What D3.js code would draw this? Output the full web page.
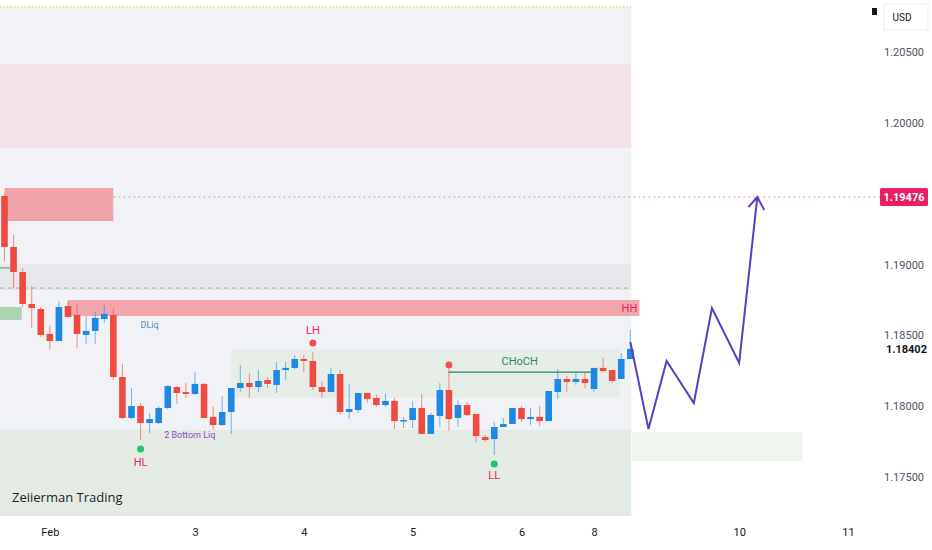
<!DOCTYPE html>
<html>
<head>
<meta charset="utf-8">
<script src="https://cdn.jsdelivr.net/npm/d3@7"></script>
<style>
  body { margin: 0; background: #fff; }
  svg { display: block; font-family: Roboto, "Noto Sans", sans-serif; }
</style>
</head>
<body>
<div id="chart"></div>
<script>
const width = 932, height = 550;

// 2h candles
const open = [1.19484,1.19124,1.18947,1.18721,1.18686,1.18510,1.18460,1.18707,1.18644,1.18503,
  1.18531,1.18615,1.18644,1.18206,1.17917,1.18001,1.17881,1.17881,1.17987,1.18135,
  1.18100,1.18086,1.18157,1.17924,1.17867,1.17959,1.18128,1.18164,1.18135,1.18185,
  1.18150,1.18255,1.18270,1.18333,1.18319,1.18135,1.18100,1.18227,1.17959,1.17973,
  1.18093,1.18058,1.18008,1.18037,1.17895,1.17902,1.17987,1.17804,1.17931,1.18114,
  1.17917,1.18008,1.17945,1.17782,1.17768,1.17853,1.17874,1.17987,1.17909,1.17924,
  1.17895,1.18100,1.18192,1.18171,1.18192,1.18121,1.18270,1.18255,1.18192,1.18333];
const high = [1.19498,1.19209,1.18976,1.18848,1.18700,1.18566,1.18743,1.18743,1.18721,1.18637,
  1.18665,1.18714,1.18693,1.18298,1.18128,1.18022,1.17952,1.18001,1.18150,1.18142,
  1.18164,1.18241,1.18164,1.17994,1.18072,1.18128,1.18291,1.18234,1.18255,1.18206,
  1.18312,1.18312,1.18361,1.18361,1.18382,1.18171,1.18270,1.18255,1.18157,1.18093,
  1.18093,1.18079,1.18086,1.18058,1.17924,1.18037,1.18086,1.17952,1.18164,1.18262,
  1.18044,1.18030,1.17945,1.17796,1.17888,1.17917,1.17987,1.18001,1.17987,1.18001,
  1.18107,1.18262,1.18213,1.18234,1.18234,1.18270,1.18340,1.18255,1.18375,1.18538];
const low = [1.19018,1.18834,1.18700,1.18552,1.18488,1.18404,1.18460,1.18623,1.18411,1.18439,
  1.18439,1.18587,1.18185,1.17909,1.17909,1.17761,1.17811,1.17874,1.17980,1.18015,
  1.18058,1.18079,1.17917,1.17832,1.17860,1.17804,1.18100,1.18058,1.18100,1.18128,
  1.18093,1.18185,1.18262,1.18241,1.18114,1.18058,1.18100,1.17938,1.17909,1.17952,
  1.18022,1.17994,1.17994,1.17839,1.17846,1.17846,1.17804,1.17804,1.17853,1.17825,
  1.17853,1.17931,1.17747,1.17747,1.17655,1.17853,1.17874,1.17888,1.17867,1.17860,
  1.17895,1.18051,1.18100,1.18150,1.18128,1.18100,1.18241,1.18164,1.18192,1.18333];
const close = [1.19124,1.18947,1.18721,1.18693,1.18503,1.18460,1.18700,1.18630,1.18510,1.18531,
  1.18623,1.18651,1.18206,1.17917,1.18001,1.17881,1.17909,1.17987,1.18142,1.18093,
  1.18086,1.18157,1.17917,1.17867,1.17959,1.18128,1.18164,1.18135,1.18178,1.18157,
  1.18255,1.18270,1.18333,1.18319,1.18135,1.18100,1.18227,1.17959,1.17980,1.18093,
  1.18051,1.18008,1.18037,1.17895,1.17902,1.17987,1.17804,1.17938,1.18114,1.17909,
  1.18008,1.17938,1.17789,1.17761,1.17853,1.17874,1.17987,1.17909,1.17924,1.17895,
  1.18107,1.18192,1.18171,1.18192,1.18164,1.18270,1.18248,1.18178,1.18333,1.18404];

const priceTicks = [1.175, 1.18, 1.185, 1.19, 1.2, 1.205];
const dayTickIndex = [5, 21, 33, 45, 57, 65, 81, 93];
const dayTickLabels = ["Feb", "3", "4", "5", "6", "8", "10", "11"];

// projected path (bar index, price)
const pathIndex = [69, 71, 73, 76, 78, 81, 83];
const pathPrice = [1.18453, 1.17839, 1.18319, 1.18022, 1.18693, 1.18305, 1.19476];

const targetPrice = 1.19476;
const lastPrice = 1.18402;

const x = d3.scaleLinear().domain([0, 100]).range([4.5, 4.5 + 100 * 9.07]);
const y = d3.scaleLinear().domain([1.175, 1.205]).range([477, 52]);

const svg = d3.select("#chart").append("svg")
  .attr("width", width).attr("height", height);

// zones: [fromIndex, toIndex, priceTop, priceBottom, fill]
const zones = [
  [-0.6, 69.1, 1.20818, 1.17225, "#f0f2f5"],
  [-0.6, 69.1, 1.20416, 1.19823, "#f3e2e5"],
  [-0.6, 69.1, 1.19004, 1.18820, "#e5e7ea"],
  [-0.6, 69.1, 1.17832, 1.17225, "#e3ebe4"],
  [25, 67.9, 1.18397, 1.18058, "#e6ede7"],
  [69.2, 88, 1.17818, 1.17613, "#eef5ef"],
  [-0.6, 1.9, 1.18700, 1.18609, "#a9d4ad"],
  [0, 12, 1.19540, 1.19307, "#f2a3a9"],
  [7, 70, 1.18749, 1.18637, "#f0a6ac"]
];
svg.append("g").selectAll("rect").data(zones).join("rect")
  .attr("x", d => Math.max(0, x(d[0])))
  .attr("width", d => x(d[1]) - Math.max(0, x(d[0])))
  .attr("y", d => y(d[2]))
  .attr("height", d => y(d[3]) - y(d[2]))
  .attr("fill", d => d[4]);

// top dotted line
svg.append("line")
  .attr("x1", 0).attr("x2", x(69.1))
  .attr("y1", y(1.20818)).attr("y2", y(1.20818))
  .attr("stroke", "#e3d63a").attr("stroke-width", 1.2).attr("stroke-dasharray", "1.5,2");

// grey dashed level
svg.append("line")
  .attr("x1", 0).attr("x2", x(69.1))
  .attr("y1", y(1.18834)).attr("y2", y(1.18834))
  .attr("stroke", "#a8abb3").attr("stroke-dasharray", "4,4");

// target level
svg.append("line")
  .attr("x1", x(12)).attr("x2", 880)
  .attr("y1", y(targetPrice)).attr("y2", y(targetPrice))
  .attr("stroke", "#f48fb1").attr("stroke-dasharray", "2,3");

// small green line at left
svg.append("line")
  .attr("x1", 0).attr("x2", x(0.6))
  .attr("y1", y(1.18976)).attr("y2", y(1.18976))
  .attr("stroke", "#3f9f6f");

// candles
const candles = open.map((o, i) => ({ i, o, h: high[i], l: low[i], c: close[i] }));
const up = "#1e88e5", down = "#ef4a40";
const cg = svg.append("g");
cg.selectAll("line").data(candles).join("line")
  .attr("x1", d => x(d.i)).attr("x2", d => x(d.i))
  .attr("y1", d => y(d.h)).attr("y2", d => y(d.l))
  .attr("stroke", d => d.c >= d.o ? up : down)
  .attr("stroke-opacity", 0.6);
cg.selectAll("rect").data(candles).join("rect")
  .attr("x", d => x(d.i) - 3.3)
  .attr("width", 6.6)
  .attr("y", d => y(Math.max(d.o, d.c)))
  .attr("height", d => Math.max(1.5, Math.abs(y(d.o) - y(d.c))))
  .attr("fill", d => d.c >= d.o ? up : down);

// CHoCH line
svg.append("path")
  .attr("d", `M${x(49)},${y(1.18312) + 10}V${y(1.18241)}H${x(65)}`)
  .attr("fill", "none").attr("stroke", "#1f8a6a").attr("stroke-width", 1.2);

// structure markers: [index, dot price, dot colour, label, label offset]
const markers = [
  [34, 1.18446, "#ef5350", "LH", -9],
  [15, 1.17698, "#22c470", "HL", 17],
  [54, 1.17592, "#22c470", "LL", 15],
  [49, 1.18291, "#ef5350", "", 0]
];
const mg = svg.append("g");
mg.selectAll("circle").data(markers).join("circle")
  .attr("cx", d => x(d[0])).attr("cy", d => y(d[1]))
  .attr("r", 3.5).attr("fill", d => d[2]);
mg.selectAll("text").data(markers.filter(d => d[3])).join("text")
  .attr("x", d => x(d[0])).attr("y", d => y(d[1]) + d[4])
  .attr("text-anchor", "middle").attr("font-size", 11)
  .attr("fill", "#e91e63").text(d => d[3]);

// text labels
const texts = [
  [16, 1.18554, "DLiq", "#4f8cbf", 9, "middle"],
  [17.6, 1.17775, "2 Bottom Liq", "#8a4fcf", 9, "start"],
  [56.8, 1.18290, "CHoCH", "#1f8a6a", 11, "middle"],
  [68.9, 1.18665, "HH", "#e91e63", 11, "middle"]
];
svg.append("g").selectAll("text").data(texts).join("text")
  .attr("x", d => x(d[0])).attr("y", d => y(d[1]))
  .attr("text-anchor", d => d[5])
  .attr("font-size", d => d[4])
  .attr("fill", d => d[3])
  .text(d => d[2]);

// projection zigzag
const proj = pathIndex.map((v, k) => [x(v), y(pathPrice[k])]);
svg.append("path")
  .attr("d", d3.line()(proj))
  .attr("fill", "none").attr("stroke", "#5a3dc2").attr("stroke-width", 2)
  .attr("stroke-linejoin", "miter");
const tip = proj[proj.length - 1];
svg.append("path")
  .attr("d", `M${tip[0] - 9},${tip[1] + 10}L${tip[0]},${tip[1]}L${tip[0] + 7},${tip[1] + 13}`)
  .attr("fill", "none").attr("stroke", "#5a3dc2").attr("stroke-width", 2);

// watermark
svg.append("text").attr("x", 12).attr("y", 502)
  .attr("font-family", "'Open Sans', sans-serif")
  .attr("font-size", 13).attr("fill", "#1c1f26")
  .text("Zeiierman Trading");

// price axis
const yAxis = svg.append("g")
  .attr("transform", "translate(927,0)")
  .call(d3.axisLeft(y).tickValues(priceTicks).tickFormat(d3.format(".5f")).tickSize(0));
yAxis.select(".domain").remove();
yAxis.selectAll("text").attr("font-size", 11).attr("fill", "#50535e")
  .attr("font-family", "Roboto, sans-serif").attr("dx", 0);

// time axis
const xAxis = svg.append("g")
  .attr("transform", "translate(0,525)")
  .call(d3.axisBottom(x).tickValues(dayTickIndex).tickFormat((d, i) => dayTickLabels[i]).tickSize(0));
xAxis.select(".domain").remove();
xAxis.selectAll("text").attr("font-size", 11).attr("fill", "#131722")
  .attr("font-family", "Roboto, sans-serif");

// target price tag
svg.append("rect").attr("x", 880).attr("y", y(targetPrice) - 9)
  .attr("width", 48).attr("height", 18).attr("rx", 1.5).attr("fill", "#e91e63");
svg.append("text").attr("x", 904).attr("y", y(targetPrice) + 4)
  .attr("text-anchor", "middle").attr("font-size", 11).attr("font-weight", "bold")
  .attr("fill", "#fff").text(d3.format(".5f")(targetPrice));

// last price
svg.append("text").attr("x", 927).attr("y", y(lastPrice) + 4)
  .attr("text-anchor", "end").attr("font-size", 11).attr("font-weight", "bold")
  .attr("fill", "#131722").text(d3.format(".5f")(lastPrice));

// currency box
svg.append("rect").attr("x", 872).attr("y", 8).attr("width", 5).attr("height", 7).attr("fill", "#131722");
svg.append("rect").attr("x", 884).attr("y", 4).attr("width", 44).attr("height", 26)
  .attr("fill", "#fff").attr("stroke", "#eceef2");
svg.append("text").attr("x", 902).attr("y", 21).attr("text-anchor", "middle")
  .attr("font-size", 10).attr("fill", "#131722").text("USD");
</script>
</body>
</html>
